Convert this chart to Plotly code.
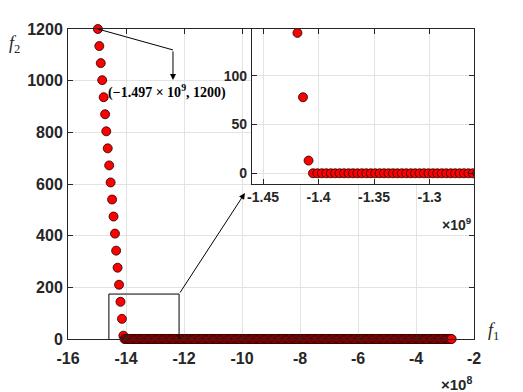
import plotly.graph_objects as go

# f1 in units of 1e6, f2 as is
# steep part of the front
steep_f1 = [-1497, -1492, -1487, -1482, -1477, -1472, -1468, -1463, -1458, -1453,
            -1448, -1443, -1438, -1434, -1429, -1424, -1419, -1414, -1409]
steep_f2 = [1200, 1134, 1068, 1002, 936, 870, 804, 738, 672, 606,
            540, 474, 408, 342, 276, 210, 144, 78, 13]

# flat part of the front (f2 = 0)
flat_f1 = [
    -1405, -1401, -1397, -1393, -1389, -1385, -1381, -1377, -1373, -1369,
    -1365, -1361, -1357, -1353, -1349, -1345, -1341, -1337, -1333, -1329,
    -1325, -1321, -1317, -1313, -1309, -1305, -1301, -1297, -1293, -1289,
    -1285, -1281, -1277, -1273, -1269, -1265, -1261, -1257, -1253, -1249,
    -1245, -1241, -1237, -1233, -1229, -1225, -1221, -1217, -1213, -1209,
    -1205, -1201, -1197, -1193, -1189, -1185, -1181, -1177, -1173, -1169,
    -1165, -1161, -1157, -1153, -1149, -1145, -1141, -1137, -1133, -1129,
    -1125, -1121, -1117, -1113, -1109, -1105, -1101, -1097, -1093, -1089,
    -1085, -1081, -1077, -1073, -1069, -1065, -1061, -1057, -1053, -1049,
    -1045, -1041, -1037, -1033, -1029, -1025, -1021, -1017, -1013, -1009,
    -1005, -1001, -997, -993, -989, -985, -981, -977, -973, -969,
    -965, -961, -957, -953, -949, -945, -941, -937, -933, -929,
    -925, -921, -917, -913, -909, -905, -901, -897, -893, -889,
    -885, -881, -877, -873, -869, -865, -861, -857, -853, -849,
    -845, -841, -837, -833, -829, -825, -821, -817, -813, -809,
    -805, -801, -797, -793, -789, -785, -781, -777, -773, -769,
    -765, -761, -757, -753, -749, -745, -741, -737, -733, -729,
    -725, -721, -717, -713, -709, -705, -701, -697, -693, -689,
    -685, -681, -677, -673, -669, -665, -661, -657, -653, -649,
    -645, -641, -637, -633, -629, -625, -621, -617, -613, -609,
    -605, -601, -597, -593, -589, -585, -581, -577, -573, -569,
    -565, -561, -557, -553, -549, -545, -541, -537, -533, -529,
    -525, -521, -517, -513, -509, -505, -501, -497, -493, -489,
    -485, -481, -477, -473, -469, -465, -461, -457, -453, -449,
    -445, -441, -437, -433, -429, -425, -421, -417, -413, -409,
    -405, -401, -397, -393, -389, -385, -381, -377, -373, -369,
    -365, -361, -357, -353, -349, -345, -341, -337, -333, -329,
    -325, -321, -317, -313, -309, -305, -301, -297, -293, -289,
    -285, -281, -277,
]
flat_f2 = [0] * len(flat_f1)

f1_all = steep_f1 + flat_f1
f2_all = steep_f2 + flat_f2

main_xticks = [-16, -14, -12, -10, -8, -6, -4, -2]
main_xlabels = ["-16", "-14", "-12", "-10", "-8", "-6", "-4", "-2"]
main_yticks = [0, 200, 400, 600, 800, 1000, 1200]
main_ylabels = ["0", "200", "400", "600", "800", "1000", "1200"]
inset_xticks = [-1.45, -1.4, -1.35, -1.3]
inset_xlabels = ["-1.45", "-1.4", "-1.35", "-1.3"]
inset_yticks = [0, 50, 100]
inset_ylabels = ["0", "50", "100"]


def bold(labels):
    return [f"<b>{s}</b>" for s in labels]


AX = "#262626"
GRID = "#e3e3e3"
marker = dict(size=9, color="#ff0000", line=dict(color="#1a0000", width=0.8))

fig = go.Figure()
fig.add_trace(go.Scatter(
    x=[v / 100 for v in f1_all], y=f2_all, mode="markers", marker=marker,
    cliponaxis=False, showlegend=False, xaxis="x", yaxis="y",
))
fig.add_trace(go.Scatter(
    x=[v / 1000 for v in f1_all], y=f2_all, mode="markers", marker=marker,
    showlegend=False, xaxis="x2", yaxis="y2",
))

SANS = "Liberation Sans, Arial, sans-serif"
SERIF = "Liberation Serif, serif"
tick_main = dict(family=SANS, size=16, color=AX)
tick_inset = dict(family=SANS, size=14, color=AX)
common = dict(showline=True, linecolor=AX, linewidth=1, mirror="ticks",
              ticks="inside", ticklen=5, tickcolor=AX, showgrid=True,
              gridcolor=GRID, gridwidth=1, zeroline=False)

# page body has an 8px margin, so the figure is 8px smaller than the window
fig.update_layout(
    width=515, height=384,
    margin=dict(l=60, r=49, t=21, b=53),
    paper_bgcolor="white", plot_bgcolor="white",
    xaxis=dict(range=[-16, -2], tickvals=main_xticks, ticktext=bold(main_xlabels),
               tickfont=tick_main, domain=[0, 1], anchor="y",
               ticklabelstandoff=5, **common),
    yaxis=dict(range=[0, 1200], tickvals=main_yticks, ticktext=bold(main_ylabels),
               tickfont=tick_main, domain=[0, 1], anchor="x",
               ticklabelstandoff=1, **common),
    xaxis2=dict(range=[-1.46, -1.26], tickvals=inset_xticks, ticktext=bold(inset_xlabels),
                tickfont=tick_inset, domain=[0.453, 1.0], anchor="y2", **common),
    yaxis2=dict(range=[-11, 148], tickvals=inset_yticks, ticktext=bold(inset_ylabels),
                tickfont=tick_inset, domain=[0.5, 1.0], anchor="x2",
                ticklabelstandoff=1, **common),
)

# zoom box around the knee
fig.add_shape(type="rect", xref="x", yref="y", x0=-14.59, x1=-12.17, y0=-39, y1=174,
              line=dict(color="black", width=1))
# arrow from box to inset
fig.add_annotation(xref="x", yref="y", x=-9.9, y=565, axref="x", ayref="y",
                   ax=-12.17, ay=174, text="", showarrow=True, arrowhead=2,
                   arrowsize=1.2, arrowwidth=1, arrowcolor="black")
# bent arrow pointing at the extreme point
fig.add_shape(type="line", xref="x", yref="y", x0=-14.97, y0=1200, x1=-12.38, y1=1119,
              line=dict(color="black", width=1))
fig.add_annotation(xref="x", yref="y", x=-12.38, y=1003, axref="x", ayref="y",
                   ax=-12.38, ay=1119, text="", showarrow=True, arrowhead=2,
                   arrowsize=1.2, arrowwidth=1, arrowcolor="black")
fig.add_annotation(xref="x", yref="y", x=-14.69, y=960, xanchor="left", yanchor="middle",
                   text="<b>(−1.497 × 10<sup>9</sup>, 1200)</b>", showarrow=False,
                   font=dict(family=SERIF, size=14, color="black"))

# axis labels and exponent labels
fig.add_annotation(xref="paper", yref="paper", x=1.03, y=0.025, xanchor="left", yanchor="middle",
                   text="<i>f</i><sub>1</sub>", showarrow=False,
                   font=dict(family=SERIF, size=18, color=AX))
fig.add_annotation(xref="paper", yref="paper", x=-0.15, y=0.95, xanchor="left", yanchor="middle",
                   text="<i>f</i><sub>2</sub>", showarrow=False,
                   font=dict(family=SERIF, size=18, color=AX))
fig.add_annotation(xref="paper", yref="paper", x=1.0, y=-0.145, xanchor="right", yanchor="middle",
                   text="<b>×10<sup>8</sup></b>", showarrow=False,
                   font=dict(family=SANS, size=15, color=AX))
fig.add_annotation(xref="paper", yref="paper", x=1.0, y=0.37, xanchor="right", yanchor="middle",
                   text="<b>×10<sup>9</sup></b>", showarrow=False,
                   font=dict(family=SANS, size=14, color=AX))

fig.write_html("out.html")
